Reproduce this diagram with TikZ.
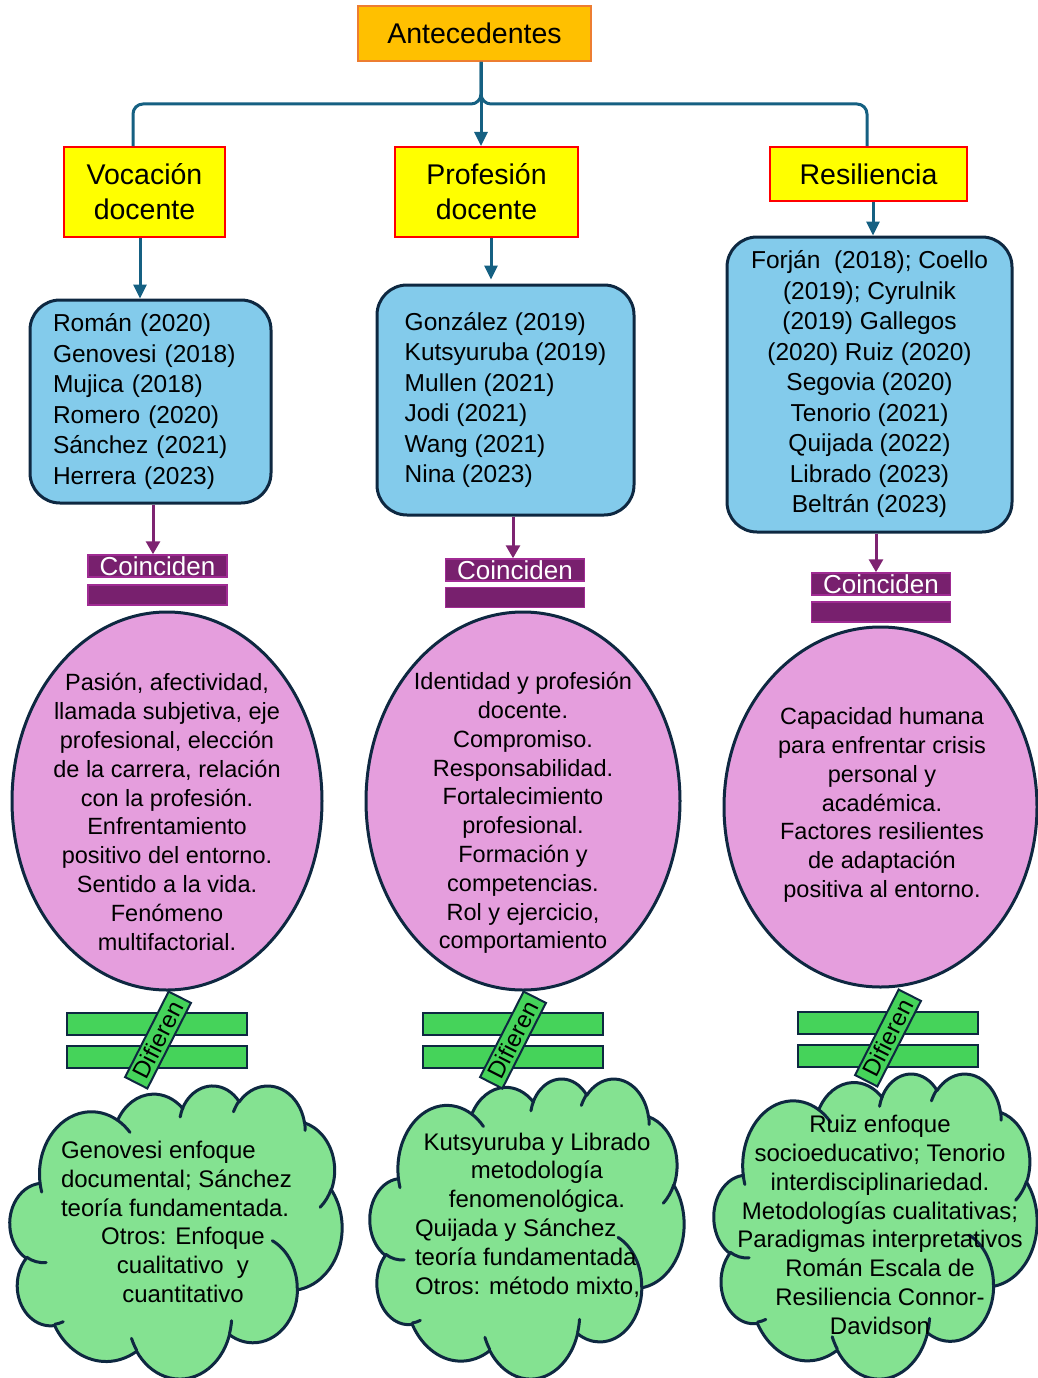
\documentclass[tikz,border=0pt]{standalone}
\usepackage{fontspec}
\setmainfont{Liberation Sans}
\usetikzlibrary{shapes.geometric,arrows.meta}
\definecolor{antfill}{HTML}{FFC000}
\definecolor{antdraw}{HTML}{ED7D31}
\definecolor{yelfill}{HTML}{FFFF00}
\definecolor{reddraw}{HTML}{FF0000}
\definecolor{bluefill}{HTML}{83CBEB}
\definecolor{navy}{HTML}{0E2841}
\definecolor{conncol}{HTML}{156082}
\definecolor{purparrow}{HTML}{7E2371}
\definecolor{purpfill}{HTML}{78206E}
\definecolor{purpdraw}{HTML}{A02B93}
\definecolor{pinkfill}{HTML}{E59EDD}
\definecolor{greenbar}{HTML}{45D35A}
\definecolor{cloudfill}{HTML}{84E291}
\pgfmathdeclarefunction{vtp}{3}{%
  \begingroup
  \pgfmathparse{#1+mod(atan2((#2)*sin(#1),(#3)*cos(#1))-(#1)+900,360)-180}%
  \pgfmathsmuggle\pgfmathresult
  \endgroup}
\newcommand\carc[4]{arc[x radius=#3, y radius=#4, start angle={vtp(#1,#3,#4)}, end angle={vtp(#1+#2,#3,#4)}]}
\newcommand\pptcloud[4]{%
  \begin{scope}[shift={(#1,#2)}, x=#3, y=#4]
  \path[draw=navy, line width=3pt, fill=cloudfill, line join=round] (39.00,143.70)
    \carc{-190.4875}{123.7805}{67.53}{91.90}
    \carc{-144.1024}{89.9452}{53.33}{72.67}
    \carc{-145.8079}{99.7230}{43.65}{59.45}
    \carc{-130.9861}{117.2417}{48.57}{65.95}
    \carc{-78.7089}{109.0269}{53.33}{72.73}
    \carc{-46.2673}{130.2690}{67.75}{92.20}
    \carc{0.6250}{114.0333}{57.85}{78.67}
    \carc{22.4516}{115.1726}{67.52}{92.15}
    \carc{66.2426}{75.7110}{77.20}{105.43}
    \carc{-274.9421}{146.7356}{43.60}{59.18}
    \carc{-246.8285}{152.5189}{43.45}{59.45}
    -- cycle;
  \path[draw=navy, line width=3pt, line cap=round]
    (46.93,261.77) \carc{86.7420}{26.4295}{43.45}{59.45}
    (69.28,348.99) \carc{73.6105}{11.4475}{43.60}{59.18}
    (164.78,390.90) \carc{137.6242}{14.0811}{67.52}{92.15}
    (288.27,347.51) \carc{6.4533}{15.9984}{67.52}{92.15}
    (341.29,229.54) \carc{-70.2924}{70.9174}{57.85}{78.67}
    (417.98,153.54) \carc{30.3180}{27.7515}{53.33}{72.73}
    (383.24,54.26) \carc{-13.7443}{14.8661}{48.57}{65.95}
    (290.78,39.52) \carc{-149.1815}{18.1954}{48.57}{65.95}
    (221.41,47.20) \carc{-163.4943}{17.6864}{43.65}{59.45}
    (140.00,51.92) \carc{-66.7125}{16.0}{67.53}{91.90}
    (41.27,157.89) \carc{-202.4}{11.9}{67.53}{91.90};
  \end{scope}}
\begin{document}
\begin{tikzpicture}[x=1pt,y=-1pt,
  antbox/.style={draw=antdraw, fill=antfill, line width=2pt, minimum width=233pt, minimum height=55pt, inner sep=0pt, font=\fontsize{28.5}{34}\selectfont},
  yelbox/.style={draw=reddraw, fill=yelfill, line width=2pt, inner sep=0pt, align=center, font=\fontsize{28.5}{35}\selectfont},
  bluebox/.style={draw=navy, fill=bluefill, line width=3pt, rounded corners=30pt, inner sep=0pt, font=\fontsize{24.5}{30.5}\selectfont},
  coinbox/.style={draw=purpdraw, fill=purpfill, line width=1.5pt, text=white, minimum width=139pt, minimum height=22pt, inner sep=0pt, font=\fontsize{26}{26}\selectfont},
  coinbar/.style={draw=purpdraw, fill=purpfill, line width=1.5pt, minimum width=139pt, minimum height=20pt, inner sep=0pt},
  pinkell/.style={ellipse, draw=navy, fill=pinkfill, line width=3pt, inner sep=0pt},
  elltext/.style={align=center, inner sep=0pt, font=\fontsize{23.5}{28.8}\selectfont},
  difbar/.style={draw=navy, fill=greenbar, line width=2.5pt, minimum width=180pt, minimum height=22pt, inner sep=0pt},
  diftag/.style={draw=navy, fill=greenbar, line width=2pt, rotate=63, minimum width=96pt, minimum height=25pt, inner sep=0pt, font=\fontsize{24}{24}\selectfont},
  cloudtext/.style={inner sep=0pt, font=\fontsize{24}{28.8}\selectfont},
  conn/.style={draw=conncol, line width=3pt},
  connarrow/.style={draw=conncol, line width=3pt, -{Triangle[length=14pt,width=13pt]}},
  purparr/.style={draw=purparrow, line width=3pt, -{Triangle[length=13pt,width=14pt]}}
]
\useasboundingbox (0,0) rectangle (1038,1378);

% top level
\node[antbox] (ant) at (474.5,33.5) {Antecedentes};
\node[yelbox, minimum width=161pt, minimum height=90pt] (voc) at (144.5,192) {Vocación\\docente};
\node[yelbox, minimum width=183pt, minimum height=90pt] (prof) at (486.5,192) {Profesión\\docente};
\node[yelbox, minimum width=197pt, minimum height=54pt] (res) at (868.5,174) {Resiliencia};

% blue boxes
\node[bluebox, minimum width=241pt, minimum height=203pt, text width=195pt, align=left] (b1) at (150.5,401.5)
  {Román (2020)\\Genovesi (2018)\\Mujica (2018)\\Romero (2020)\\Sánchez (2021)\\Herrera (2023)};
\node[bluebox, minimum width=257pt, minimum height=230pt, align=left] (b2) at (505.5,400)
  {González (2019)\\Kutsyuruba (2019)\\Mullen (2021)\\Jodi (2021)\\Wang (2021)\\Nina (2023)};
\node[bluebox, minimum width=285pt, minimum height=295pt, align=center] (b3) at (869.5,384.5)
  {Forján~~(2018); Coello\\(2019); Cyrulnik\\(2019) Gallegos\\(2020) Ruiz (2020)\\Segovia (2020)\\Tenorio (2021)\\Quijada (2022)\\Librado (2023)\\Beltrán (2023)};

% coinciden
\node[coinbox] (c1) at (157.5,566) {Coinciden};
\node[coinbar] (c1b) at (157.5,595) {};
\node[coinbox] (c2) at (515,570) {Coinciden};
\node[coinbar] (c2b) at (515,597.5) {};
\node[coinbox] (c3) at (881,584) {Coinciden};
\node[coinbar] (c3b) at (881,612) {};

% ellipses
\node[pinkell, minimum width=310pt, minimum height=378pt] (e1) at (167,801) {};
\node[elltext] (e1t) at (167,812) {Pasión, afectividad,\\llamada subjetiva, eje\\profesional, elección\\de la carrera, relación\\con la profesión.\\Enfrentamiento\\positivo del entorno.\\Sentido a la vida.\\Fenómeno\\multifactorial.};
\node[pinkell, minimum width=314pt, minimum height=378pt] (e2) at (523,801) {};
\node[elltext] (e2t) at (523,813) {Identidad y profesión\\docente.\\Compromiso.\\Responsabilidad.\\Fortalecimiento\\profesional.\\Formación y\\competencias.\\Rol y ejercicio,\\comportamiento};
\node[pinkell, minimum width=313pt, minimum height=360pt] (e3) at (880.5,807) {};
\node[elltext] (e3t) at (882,805) {Capacidad humana\\para enfrentar crisis\\personal y\\académica.\\Factores resilientes\\de adaptación\\positiva al entorno.};

% clouds
\pptcloud{10}{1085}{0.76852pt}{-0.67824pt}
\pptcloud{370}{1078}{0.72685pt}{-0.69444pt}
\pptcloud{714}{1073}{0.74769pt}{-0.70602pt}
\node[cloudtext, align=left] (cl1) at (183,1222)
  {Genovesi enfoque\\documental; Sánchez\\teoría fundamentada.\\\makebox[244pt][c]{Otros: Enfoque}\\\makebox[244pt][c]{cualitativo~~y}\\\makebox[244pt][c]{cuantitativo}};
\node[cloudtext, align=left] (cl2) at (537,1215)
  {\makebox[244pt][c]{Kutsyuruba y Librado}\\\makebox[244pt][c]{metodología}\\\makebox[244pt][c]{fenomenológica.}\\Quijada y Sánchez\\teoría fundamentada\\Otros: método mixto,};
\node[cloudtext, align=center] (cl3) at (880,1225)
  {Ruiz enfoque\\socioeducativo; Tenorio\\interdisciplinariedad.\\Metodologías cualitativas;\\Paradigmas interpretativos\\Román Escala de\\Resiliencia Connor-\\Davidson};

% difieren
\node[difbar] (d1a) at (157,1024) {};
\node[difbar] (d1b) at (157,1057) {};
\node[diftag] (d1) at (158,1040) {Difieren};
\node[difbar] (d2a) at (513,1024) {};
\node[difbar] (d2b) at (513,1057) {};
\node[diftag] (d2) at (513,1040) {Difieren};
\node[difbar] (d3a) at (888,1023) {};
\node[difbar] (d3b) at (888,1056) {};
\node[diftag] (d3) at (888,1038) {Difieren};

% top connectors
\coordinate (antout) at ([xshift=6.5pt]ant.south);
\coordinate (jl) at (133,104);
\coordinate (jr) at (867,104);
\draw[conn, rounded corners=10pt] (antout) |- (jl) -- (jl |- voc.north);
\draw[conn, rounded corners=10pt] (antout) |- (jr) -- (jr |- res.north);
\draw[connarrow] (antout) -- (antout |- prof.north);

% yellow -> blue
\coordinate (v1) at ([xshift=-4.5pt]voc.south);
\coordinate (v2) at ([xshift=4.5pt]prof.south);
\coordinate (v3) at ([xshift=4.5pt]res.south);
\draw[connarrow] (v1) -- (v1 |- b1.north);
\draw[connarrow, shorten >=4pt] (v2) -- (v2 |- b2.north);
\draw[connarrow] (v3) -- (v3 |- b3.north);

% blue -> coinciden
\coordinate (p1) at ([xshift=2.5pt]b1.south);
\coordinate (p2) at ([xshift=7.5pt]b2.south);
\coordinate (p3) at ([xshift=6.5pt]b3.south);
\draw[purparr] (p1) -- (p1 |- c1.north);
\draw[purparr] (p2) -- (p2 |- c2.north);
\draw[purparr] (p3) -- (p3 |- c3.north);
\end{tikzpicture}
\end{document}
